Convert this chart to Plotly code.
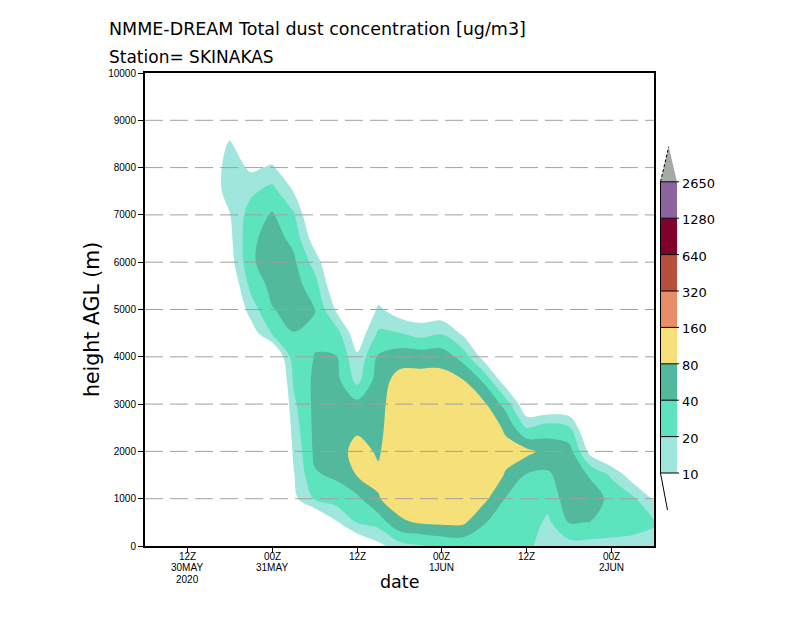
import numpy as np
import plotly.graph_objects as go

# ---------------- data ----------------
# time axis: hours since 00Z 30 MAY 2020
hours = [6, 9, 12, 15, 18, 21, 24, 27, 30, 33, 36, 39, 42, 45, 48, 51, 54, 57, 60, 63, 66, 69, 72, 75, 78]
# height levels (m AGL)
heights = [0, 500, 1000, 1500, 2000, 2500, 3000, 3500, 4000, 4500, 5000,
           5500, 6000, 6500, 7000, 7500, 8000, 8500, 9000, 9500, 10000]

# dust concentration profiles [ug/m3], one list per time step (bottom -> top)
c_30may_06z = [0, 0, 0, 0, 0, 0, 0, 0, 0, 0, 0, 0, 0, 0, 0, 0, 0, 0, 0, 0, 0]
c_30may_09z = [0, 0, 0, 0, 0, 0, 0, 0, 0, 0, 0, 0, 0, 0, 0, 0, 0, 0, 0, 0, 0]
c_30may_12z = [0, 0, 0, 0, 0, 0, 0, 0, 0, 0, 0, 0, 0, 0, 0, 0, 0, 0, 0, 0, 0]
c_30may_15z = [0, 0, 0, 0, 0, 0, 0, 0, 0, 0, 0, 0, 0, 0, 2.5, 5, 5, 5, 2.5, 0, 0]
c_30may_18z = [0, 0, 0, 0, 0, 0, 0, 0, 0, 2.5, 3.5, 4.7, 7.1, 8.4, 9.7, 15.2, 15.2, 11.1, 5, 1.8, 0]
c_30may_21z = [0, 0, 0, 0, 0, 0, 0, 0, 3.5, 6.6, 14.1, 24.6, 36.1, 34.8, 28.3, 17.4, 8.7, 4.4, 2.5, 0, 0]
c_31may_00z = [0, 0, 0, 0, 0, 0, 1.25, 1.8, 3.2, 21.4, 38.6, 49.2, 56.6, 52.8, 42.9, 25.5, 11.1, 5, 2.5, 0, 0]
c_31may_03z = [1.8, 3.5, 8.1, 9.3, 11.3, 13.9, 17.2, 21.7, 29.5, 39.5, 49.2, 54.6, 45.9, 33.9, 22.5, 9.7, 5, 2.5, 0, 0, 0]
c_31may_06z = [2.5, 3.2, 21.4, 37.3, 45.9, 47.6, 47.6, 45.9, 40.6, 37.3, 40.6, 27.3, 15.2, 6.6, 3.5, 1.8, 0, 0, 0, 0, 0]
c_31may_09z = [3.5, 9.0, 28.3, 44.4, 60.6, 65, 60.6, 51, 41.7, 28.3, 9.3, 5, 3.5, 1.8, 0, 0, 0, 0, 0, 0, 0]
c_31may_12z = [4.4, 20.7, 33.6, 82.8, 98.5, 72.1, 49.2, 16.2, 11.5, 5.7, 2.9, 1.5, 0, 0, 0, 0, 0, 0, 0, 0, 0]
c_31may_15z = [8.1, 26.4, 77.3, 88.8, 74.6, 67.3, 65, 56.6, 43.5, 22.2, 11.5, 5.7, 2.9, 1.5, 0, 0, 0, 0, 0, 0, 0]
c_31may_18z = [15.2, 72.1, 105.6, 130, 134.5, 130, 117.1, 105.6, 58.6, 20.3, 6.6, 4.4, 2.5, 0, 0, 0, 0, 0, 0, 0, 0]
c_31may_21z = [18.7, 85.7, 121.3, 144.2, 149.3, 144.2, 125.5, 105.6, 60.6, 15.2, 5.7, 2.9, 0, 0, 0, 0, 0, 0, 0, 0, 0]
c_01jun_00z = [23, 91.9, 130, 149.3, 154.5, 149.3, 130, 105.6, 60.6, 18.7, 5.7, 3.5, 0, 0, 0, 0, 0, 0, 0, 0, 0]
c_01jun_03z = [24.6, 91.9, 121.3, 139.3, 144.2, 134.5, 113.1, 82.8, 30.3, 8.7, 4.1, 2, 0, 0, 0, 0, 0, 0, 0, 0, 0]
c_01jun_06z = [26.4, 41.4, 95.1, 113.1, 117.1, 109.3, 88.8, 34.8, 7.1, 3.5, 1.5, 0, 0, 0, 0, 0, 0, 0, 0, 0, 0]
c_01jun_09z = [26.4, 30.3, 38.6, 77.3, 91.9, 74.6, 30.3, 6.2, 3.1, 1.5, 0, 0, 0, 0, 0, 0, 0, 0, 0, 0, 0]
c_01jun_12z = [24.6, 28.3, 32.5, 37.3, 98.5, 18.7, 5, 2.5, 0, 0, 0, 0, 0, 0, 0, 0, 0, 0, 0, 0, 0]
c_01jun_15z = [13.2, 17.4, 26.4, 36.1, 60.6, 28.3, 4.4, 2, 0, 0, 0, 0, 0, 0, 0, 0, 0, 0, 0, 0, 0]
c_01jun_18z = [15.2, 41.4, 56.6, 58.6, 54.6, 21.4, 4.4, 2, 0, 0, 0, 0, 0, 0, 0, 0, 0, 0, 0, 0, 0]
c_01jun_21z = [15.2, 39.5, 54.6, 37.3, 7.6, 3.5, 1.5, 0, 0, 0, 0, 0, 0, 0, 0, 0, 0, 0, 0, 0, 0]
c_02jun_00z = [15.2, 32.5, 33.6, 18.0, 3.5, 2, 0, 0, 0, 0, 0, 0, 0, 0, 0, 0, 0, 0, 0, 0, 0]
c_02jun_03z = [15.2, 27.3, 23, 6.6, 2.9, 0, 0, 0, 0, 0, 0, 0, 0, 0, 0, 0, 0, 0, 0, 0, 0]
c_02jun_06z = [14.1, 22.2, 9.3, 4.4, 2.5, 0, 0, 0, 0, 0, 0, 0, 0, 0, 0, 0, 0, 0, 0, 0, 0]

profiles = [c_30may_06z, c_30may_09z, c_30may_12z, c_30may_15z, c_30may_18z, c_30may_21z,
            c_31may_00z, c_31may_03z, c_31may_06z, c_31may_09z, c_31may_12z, c_31may_15z,
            c_31may_18z, c_31may_21z, c_01jun_00z, c_01jun_03z, c_01jun_06z, c_01jun_09z,
            c_01jun_12z, c_01jun_15z, c_01jun_18z, c_01jun_21z, c_02jun_00z, c_02jun_03z,
            c_02jun_06z]

# shading levels and colours
levels = [10, 20, 40, 80, 160, 320, 640, 1280, 2650]
band_colors = ["#9fe6dc", "#5de3be", "#52b99c", "#f5e07a", "#e88c6a", "#b4503c", "#82002d", "#8c64a0"]
over_color = "#a5aaa5"

x_tickvals = [12, 24, 36, 48, 60, 72]
x_ticklines = [["12Z", "30MAY", "2020"], ["00Z", "31MAY"], ["12Z"], ["00Z", "1JUN"], ["12Z"], ["00Z", "2JUN"]]
y_tickvals = [0, 1000, 2000, 3000, 4000, 5000, 6000, 7000, 8000, 9000, 10000]
y_ticktext = ["0", "1000", "2000", "3000", "4000", "5000", "6000", "7000", "8000", "9000", "10000"]
grid_vals = [1000, 2000, 3000, 4000, 5000, 6000, 7000, 8000, 9000]

# ---------------- figure ----------------
conc = np.array(profiles, dtype=float).T          # rows = heights, cols = time
zlog = np.log2(np.maximum(conc, 1.0))

all_colors = ["#ffffff"] + band_colors + [over_color]
n = len(all_colors) - 1
cscale = []
for k, col in enumerate(all_colors):
    lo = max(0.0, (k - 0.5) / n)
    hi = min(1.0, (k + 0.5) / n)
    cscale.append([lo, col])
    cscale.append([hi, col])

start = np.log2(levels[0])
fig = go.Figure()
fig.add_trace(go.Contour(
    x=hours, y=heights, z=zlog,
    colorscale=cscale, showscale=False,
    contours=dict(start=start, end=start + len(levels) - 1, size=1,
                  coloring="fill", showlines=False),
    line=dict(width=0, smoothing=1.0),
    hoverinfo="skip",
))

FONT = "DejaVu Sans"
TICKFONT = dict(family="Liberation Sans, Arial", size=10, color="black")

fig.update_layout(
    width=800, height=618,
    margin=dict(l=145, r=146, t=73, b=72),
    paper_bgcolor="white", plot_bgcolor="white",
    showlegend=False,
    xaxis=dict(range=[6, 78], tickvals=x_tickvals, showticklabels=False,
               showgrid=False, zeroline=False, showline=True, linewidth=2,
               linecolor="black", mirror=True, ticks="outside", ticklen=5,
               tickwidth=1, tickcolor="black"),
    yaxis=dict(range=[0, 10000], tickvals=y_tickvals, ticktext=y_ticktext,
               showgrid=False, zeroline=False, showline=True, linewidth=2,
               linecolor="black", mirror=True, ticks="outside", ticklen=5,
               tickwidth=1, tickcolor="black", tickfont=TICKFONT),
)

shapes = []
for v in grid_vals:
    shapes.append(dict(type="line", xref="paper", yref="y", x0=0, x1=1, y0=v, y1=v,
                       line=dict(color="#a0a0a0", width=1, dash="18px,7px"), layer="above"))

# ---- pixel layout -> paper coords ----
PL, PW, PB, PH = 145, 509, 546, 473
def px(x):
    return (x - PL) / PW
def py(y):
    return (PB - y) / PH

annotations = []
# x tick labels (one annotation per text line)
for xv, lines in zip(x_tickvals, x_ticklines):
    for i, t in enumerate(lines):
        annotations.append(dict(xref="x", yref="paper", x=xv, y=py(556 + 11.5 * i),
                                text=t, showarrow=False, xanchor="center", yanchor="middle",
                                font=TICKFONT))

# ---- colour key ----
bar_x0, bar_x1 = 660.5, 677.0
bar_bot, band_h = 473.0, 36.4
nb = len(band_colors)
for k, col in enumerate(band_colors):
    yb = bar_bot - k * band_h
    yt = bar_bot - (k + 1) * band_h
    shapes.append(dict(type="rect", xref="paper", yref="paper",
                       x0=px(bar_x0), x1=px(bar_x1), y0=py(yb), y1=py(yt),
                       fillcolor=col, line=dict(width=0), layer="above"))
bar_top = bar_bot - nb * band_h
apex_y = bar_top - 35
apex_x = (bar_x0 + bar_x1) / 2
shapes.append(dict(type="path", xref="paper", yref="paper",
                   path=f"M {px(bar_x0)} {py(bar_top)} L {px(apex_x)} {py(apex_y)} L {px(bar_x1)} {py(bar_top)} Z",
                   fillcolor=over_color, line=dict(width=0), layer="above"))
shapes.append(dict(type="line", xref="paper", yref="paper",
                   x0=px(bar_x0), y0=py(bar_top), x1=px(apex_x), y1=py(apex_y),
                   line=dict(color="black", width=1, dash="3px,2px"), layer="above"))
shapes.append(dict(type="line", xref="paper", yref="paper",
                   x0=px(bar_x0), y0=py(bar_bot), x1=px(bar_x0), y1=py(bar_top),
                   line=dict(color="black", width=1), layer="above"))
shapes.append(dict(type="line", xref="paper", yref="paper",
                   x0=px(bar_x0), y0=py(bar_bot), x1=px(bar_x0 + 7), y1=py(bar_bot + 37),
                   line=dict(color="black", width=1), layer="above"))

for k, lev in enumerate(levels):
    yl = bar_bot - k * band_h
    shapes.append(dict(type="line", xref="paper", yref="paper",
                       x0=px(bar_x0), x1=px(bar_x1 + 2), y0=py(yl), y1=py(yl),
                       line=dict(color="black", width=1), layer="above"))
    annotations.append(dict(xref="paper", yref="paper", x=px(680), y=py(yl + 1.5),
                            text=str(lev), showarrow=False, xanchor="left", yanchor="middle",
                            font=dict(family=FONT, size=13, color="black")))

annotations += [
    dict(xref="paper", yref="paper", x=px(107), y=py(29), xanchor="left", yanchor="middle",
         text="NMME-DREAM Total dust concentration [ug/m3]", showarrow=False,
         font=dict(family=FONT, size=17.5, color="black")),
    dict(xref="paper", yref="paper", x=px(107), y=py(57), xanchor="left", yanchor="middle",
         text="Station= SKINAKAS", showarrow=False,
         font=dict(family=FONT, size=17, color="black")),
    dict(xref="paper", yref="paper", x=px(92), y=py(320), xanchor="center", yanchor="middle",
         text="height AGL (m)", textangle=-90, showarrow=False,
         font=dict(family=FONT, size=20.5, color="black")),
    dict(xref="paper", yref="paper", x=px(399), y=py(582), xanchor="center", yanchor="middle",
         text="date", showarrow=False,
         font=dict(family=FONT, size=17.5, color="black")),
]

fig.update_layout(shapes=shapes, annotations=annotations)
fig.write_html("out.html")
